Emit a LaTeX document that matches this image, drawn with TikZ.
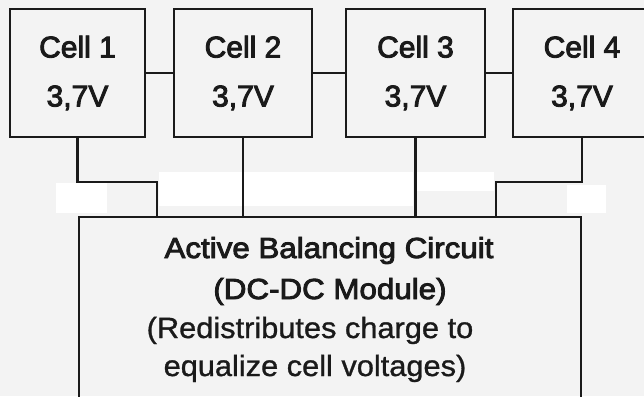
\documentclass[tikz,border=0pt]{standalone}
\usepackage{fontspec}
\setmainfont{Liberation Sans}
\newfontfamily\medf[FakeBold=3]{Liberation Sans}
\newfontfamily\medw[FakeBold=3,FakeStretch=1.08]{Liberation Sans}
\newfontfamily\regw[FakeBold=1,FakeStretch=1.05]{Liberation Sans}
\definecolor{bgc}{HTML}{F3F3F3}
\definecolor{ink}{HTML}{1A1A1A}
\begin{document}
\begin{tikzpicture}[x=1pt,y=-1pt,
  line width=2.6pt, draw=ink,
  cell/.style={draw=ink, line width=2.6pt, minimum height=128pt, inner sep=0pt,
    align=center, text=ink, font=\medf\fontsize{30}{49}\selectfont},
  bigbox/.style={draw=ink, line width=2.6pt, minimum width=502pt, minimum height=202pt, inner sep=0pt},
  ttl/.style={anchor=base, inner sep=0pt, text=ink, font=\medw\fontsize{29}{35}\selectfont},
  txt/.style={anchor=base, inner sep=0pt, text=ink, font=\regw\fontsize{29.3}{35}\selectfont},
  wire/.style={draw=ink, line width=2.6pt}]
\useasboundingbox (0,0) rectangle (644,396);
\clip (0,0) rectangle (644,396);
\fill[bgc] (0,0) rectangle (644,396);
% white patches of the reference
\fill[white] (159,172) rectangle (413,206);
\fill[white] (417,172) rectangle (494,191);
\fill[white] (56,183) rectangle (107,213);
\fill[white] (567,185) rectangle (606,213);
% cells
\node[cell, minimum width=135pt] (c1) at (77.5,73) {Cell 1\\3,7V};
\node[cell, minimum width=138pt] (c2) at (243,73) {Cell 2\\3,7V};
\node[cell, minimum width=139pt] (c3) at (415.5,73) {Cell 3\\3,7V};
\node[cell, minimum width=138pt] (c4) at (582,73) {Cell 4\\3,7V};
% balancing circuit
\node[bigbox] (abc) at (330,318) {};
\node[ttl] (t1) at (329,258) {Active Balancing Circuit};
\node[ttl] (t2) at (330,299) {(DC-DC Module)};
\node[txt] (t3) at (310,338) {(Redistributes charge to};
\node[txt] (t4) at (315,376) {equalize cell voltages)};
% series connections
\draw[wire] (c1.east) -- (c2.west);
\draw[wire] (c2.east) -- (c3.west);
\draw[wire] (c3.east) -- (c4.west);
% taps to the balancing circuit
\coordinate (j1) at (157,182);
\coordinate (j4) at (496,182);
\draw[wire] (c1.south) |- (j1) -- (j1 |- abc.north);
\draw[wire] (c2.south) -- (c2.south |- abc.north);
\draw[wire] (c3.south) -- (c3.south |- abc.north);
\draw[wire] (c4.south) |- (j4) -- (j4 |- abc.north);
\end{tikzpicture}
\end{document}
